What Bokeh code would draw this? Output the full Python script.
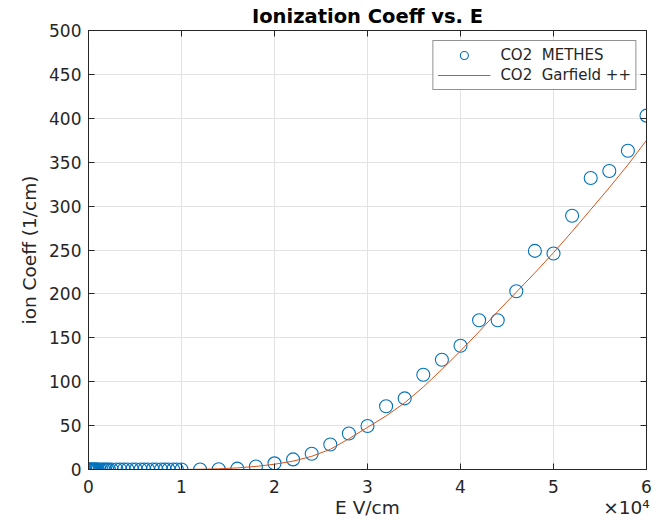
from bokeh.plotting import figure
from bokeh.models import (LinearAxis, FixedTicker, Range1d, Legend, LegendItem)
from bokeh.embed import file_html
from bokeh.resources import INLINE

# METHES data (E in V/cm, alpha in 1/cm)
methes_E = [0, 100, 200, 300, 400, 500, 600, 700, 800, 900, 1000, 1200, 1400, 1600,
            1800, 2000, 2200, 2500, 3000, 3400, 3800, 4200, 4700, 5100, 5600, 6000,
            6400, 6900, 7300, 7800, 8200, 8600, 9100, 9500, 10000,
            12000, 14000, 16000, 18000, 20000, 22000, 24000, 26000, 28000, 30000,
            32000, 34000, 36000, 38000, 40000, 42000, 44000, 46000, 48000, 50000,
            52000, 54000, 56000, 58000, 60000]
methes_alpha = [0, 0, 0, 0, 0, 0, 0, 0, 0, 0, 0, 0, 0, 0,
                0, 0, 0, 0, 0, 0, 0, 0, 0, 0, 0, 0,
                0, 0, 0, 0, 0, 0, 0, 0, 0,
                0, 0.3, 1, 3.5, 7, 11.5, 18, 28.5, 41, 49.5,
                72, 81, 108, 125, 141, 170, 170, 203, 249, 246,
                289, 332, 340, 363, 403]

# Garfield++ curve
garf_E = [0, 2000, 4000, 6000, 8000, 10000, 12000, 14000, 16000, 18000, 20000,
          22000, 24000, 26000, 28000, 30000, 32000, 34000, 36000, 38000, 40000,
          42000, 44000, 46000, 48000, 50000, 52000, 54000, 56000, 58000, 60000]
garf_alpha = [0, 0, 0, 0, 0, 0, 0.3, 0.8, 1.8, 3.5, 6,
              9.5, 15, 23, 35, 48, 61, 76, 94, 114, 135,
              157, 180, 202, 224, 247, 271, 296, 321, 347, 375]

x_ticks = [0, 10000, 20000, 30000, 40000, 50000, 60000]
x_tick_labels = ["0", "1", "2", "3", "4", "5", "6"]
y_ticks = [0, 50, 100, 150, 200, 250, 300, 350, 400, 450, 500]
x_label = "E V/cm"
x_multiplier = "\u00d710\u2074"

FONT = "DejaVu Sans"
AX = "#262626"
GRID = "#e3e3e3"

p = figure(width=660, height=525, output_backend="svg", toolbar_location=None,
           x_range=Range1d(0, 60000), y_range=Range1d(0, 500),
           min_border_left=88, min_border_right=14, min_border_top=30, min_border_bottom=56,
           frame_width=558, frame_height=439,
           title="Ionization Coeff vs. E")
p.title.align = "center"
p.title.text_font = FONT
p.title.text_font_size = "19.5px"
p.title.text_font_style = "bold"
p.title.text_color = "#000000"
p.title.offset = 0
p.title.standoff = 5

p.outline_line_color = AX
p.outline_line_width = 1

def style_axis(ax, labels=True):
    ax.axis_line_color = AX
    ax.major_tick_line_color = AX
    ax.major_tick_in = 6
    ax.major_tick_out = 0
    ax.minor_tick_line_color = None
    ax.major_label_text_font = FONT
    ax.major_label_text_font_size = "17px"
    ax.major_label_text_color = AX
    ax.axis_label_text_font = FONT
    ax.axis_label_text_font_size = "18.5px"
    ax.axis_label_text_font_style = "normal"
    ax.axis_label_text_color = AX
    if not labels:
        ax.major_label_text_font_size = "0px"
        ax.major_label_text_alpha = 0

xa = p.xaxis[0]
ya = p.yaxis[0]
xa.ticker = FixedTicker(ticks=x_ticks)
xa.major_label_overrides = {t: l for t, l in zip(x_ticks, x_tick_labels)}
ya.ticker = FixedTicker(ticks=y_ticks)
# the x label stays centred; the multiplier sits at the right end of the same line
EM = "\u2003"
EN = "\u2002"
xa.axis_label = EM * 13 + EN + x_label + EM * 11 + x_multiplier
ya.axis_label = "ion Coeff (1/cm)"
style_axis(xa)
style_axis(ya)
xa.major_label_standoff = 10
ya.major_label_standoff = 7
xa.axis_label_standoff = 1
ya.axis_label_standoff = 6

top = LinearAxis(ticker=FixedTicker(ticks=x_ticks))
right = LinearAxis(ticker=FixedTicker(ticks=y_ticks))
style_axis(top, labels=False)
style_axis(right, labels=False)
p.add_layout(top, "above")
p.add_layout(right, "right")

p.xgrid.ticker = FixedTicker(ticks=x_ticks)
p.ygrid.ticker = FixedTicker(ticks=y_ticks)
p.grid.grid_line_color = GRID
p.grid.grid_line_width = 1

r_pts = p.scatter(methes_E, methes_alpha, marker="circle", size=13,
                  fill_color=None, line_color="#0072BD", line_width=1.1)
r_line = p.line(garf_E, garf_alpha, line_color="#D95319", line_width=1)

legend = Legend(items=[LegendItem(label="CO2  METHES", renderers=[r_pts]),
                       LegendItem(label="CO2  Garfield ++", renderers=[r_line])],
                location="top_right")
legend.label_text_font = FONT
legend.label_text_font_size = "15px"
legend.label_text_color = AX
legend.border_line_color = AX
legend.border_line_width = 1
legend.background_fill_color = "white"
legend.background_fill_alpha = 1
legend.margin = 10
legend.padding = 4
legend.spacing = 0
legend.glyph_width = 53
legend.label_height = 20
legend.glyph_height = 20
legend.label_standoff = 10
p.add_layout(legend)

open("out.html", "w").write(file_html(p, INLINE))
